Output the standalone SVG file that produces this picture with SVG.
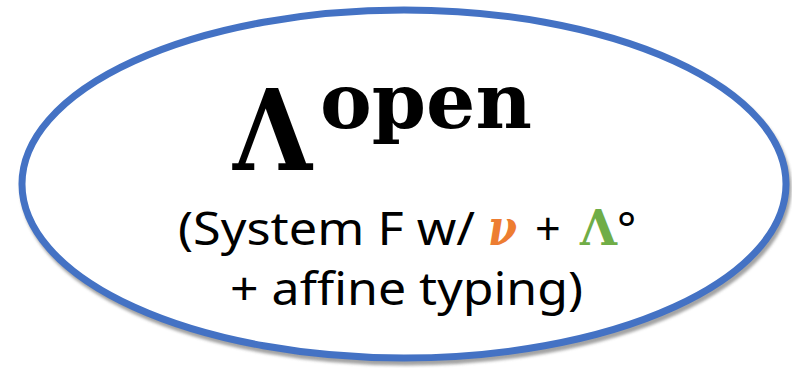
<svg xmlns="http://www.w3.org/2000/svg" width="792" height="368" viewBox="0 0 792 368">
<defs>
<filter id="blur" x="-10%" y="-10%" width="120%" height="120%"><feGaussianBlur stdDeviation="1.5"/></filter>
<style>
.shape{fill:#FFFFFF;stroke:#4472C4;stroke-width:7}
.shadow{fill:none;stroke:#8C8C8C;stroke-width:7;opacity:0.8}
.sans{font-family:"Noto Sans","Open Sans","DejaVu Sans",sans-serif;font-size:45px;fill:#000000}
.serifb{font-family:"DejaVu Serif","Liberation Serif",serif;font-weight:bold}
</style>
</defs>
<g id="node-lambda-open">
<ellipse class="shadow" cx="406" cy="188" rx="382" ry="174" filter="url(#blur)"/>
<ellipse class="shape" cx="404" cy="184" rx="382" ry="174"/>
<text class="serifb" x="233" y="170" font-size="112" textLength="79" lengthAdjust="spacingAndGlyphs">Λ</text>
<text class="serifb" x="320" y="128" font-size="76" textLength="212" lengthAdjust="spacingAndGlyphs">open</text>
<text class="sans" x="178" y="245" textLength="297" lengthAdjust="spacingAndGlyphs">(System F w/</text>
<text class="serifb" x="488" y="245" font-size="50" font-style="italic" fill="#ED7D31" textLength="29" lengthAdjust="spacingAndGlyphs">ν</text>
<text class="sans" x="535" y="245" font-size="48">+</text>
<text class="serifb" x="580" y="245" font-size="48" fill="#70AD47" textLength="37" lengthAdjust="spacingAndGlyphs">Λ</text>
<text class="sans" x="617" y="245" font-size="50" fill="#70AD47">°</text>
<text class="sans" x="230" y="305" textLength="353" lengthAdjust="spacingAndGlyphs">+ affine typing)</text>
</g>
<g id="connectors"/>
</svg>
